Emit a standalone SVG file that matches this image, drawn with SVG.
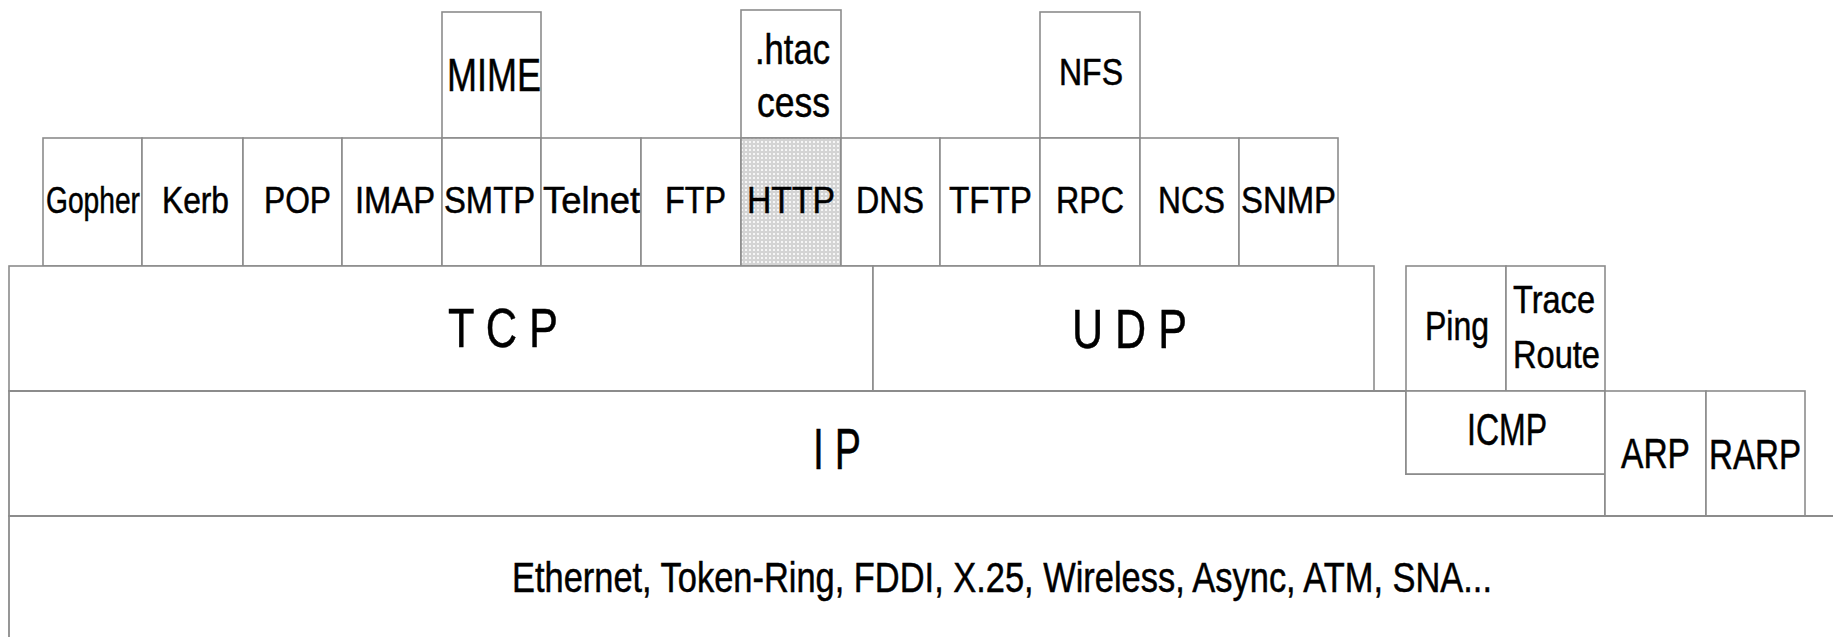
<svg xmlns="http://www.w3.org/2000/svg" width="1833" height="637" viewBox="0 0 1833 637">
<style>
.b{fill:#fff;stroke:#8c8c8c;stroke-width:1.6}
.l{fill:none;stroke:#8c8c8c;stroke-width:1.8}
text{font-family:"Liberation Sans",Arial,Helvetica,sans-serif;fill:#000;stroke:#000;stroke-width:0.5}
.a{font-size:37px}
</style>
<defs>
<pattern id="dots" width="4" height="4" patternUnits="userSpaceOnUse">
<rect width="4" height="4" fill="#d4d4d4"/>
<rect x="1" y="1" width="2" height="2" fill="#f6f6f6"/>
</pattern>
</defs>
<rect width="1833" height="637" fill="#fff"/>

<g id="mime"><rect class="b" x="442" y="12" width="99" height="126"/><text x="447" y="91" font-size="46" textLength="94" lengthAdjust="spacingAndGlyphs">MIME</text></g>
<g id="htaccess"><rect class="b" x="741" y="10" width="100" height="128"/><text x="755" y="64" font-size="42" textLength="75" lengthAdjust="spacingAndGlyphs">.htac</text><text x="757" y="117" font-size="42" textLength="73" lengthAdjust="spacingAndGlyphs">cess</text></g>
<g id="nfs"><rect class="b" x="1040" y="12" width="100" height="126"/><text x="1059" y="85" font-size="36" textLength="64" lengthAdjust="spacingAndGlyphs">NFS</text></g>

<g id="gopher"><rect class="b" x="43" y="138" width="99" height="128"/><text class="a" x="46" y="213" textLength="94" lengthAdjust="spacingAndGlyphs">Gopher</text></g>
<g id="kerb"><rect class="b" x="142" y="138" width="101" height="128"/><text class="a" x="162" y="213" textLength="67" lengthAdjust="spacingAndGlyphs">Kerb</text></g>
<g id="pop"><rect class="b" x="243" y="138" width="99" height="128"/><text class="a" x="264" y="213" textLength="67" lengthAdjust="spacingAndGlyphs">POP</text></g>
<g id="imap"><rect class="b" x="342" y="138" width="100" height="128"/><text class="a" x="355" y="213" textLength="80" lengthAdjust="spacingAndGlyphs">IMAP</text></g>
<g id="smtp"><rect class="b" x="442" y="138" width="99" height="128"/><text class="a" x="444" y="213" textLength="91" lengthAdjust="spacingAndGlyphs">SMTP</text></g>
<g id="telnet"><rect class="b" x="541" y="138" width="100" height="128"/><text class="a" x="543" y="213" textLength="97" lengthAdjust="spacingAndGlyphs">Telnet</text></g>
<g id="ftp"><rect class="b" x="641" y="138" width="100" height="128"/><text class="a" x="665" y="213" textLength="61" lengthAdjust="spacingAndGlyphs">FTP</text></g>
<g id="http"><rect class="b" x="741" y="138" width="100" height="128" style="fill:url(#dots)"/><text class="a" x="747" y="213" textLength="88" lengthAdjust="spacingAndGlyphs">HTTP</text></g>
<g id="dns"><rect class="b" x="841" y="138" width="99" height="128"/><text class="a" x="856" y="213" textLength="68" lengthAdjust="spacingAndGlyphs">DNS</text></g>
<g id="tftp"><rect class="b" x="940" y="138" width="100" height="128"/><text class="a" x="949" y="213" textLength="83" lengthAdjust="spacingAndGlyphs">TFTP</text></g>
<g id="rpc"><rect class="b" x="1040" y="138" width="100" height="128"/><text class="a" x="1056" y="213" textLength="68" lengthAdjust="spacingAndGlyphs">RPC</text></g>
<g id="ncs"><rect class="b" x="1140" y="138" width="99" height="128"/><text class="a" x="1158" y="213" textLength="67" lengthAdjust="spacingAndGlyphs">NCS</text></g>
<g id="snmp"><rect class="b" x="1239" y="138" width="99" height="128"/><text class="a" x="1241" y="213" textLength="95" lengthAdjust="spacingAndGlyphs">SNMP</text></g>

<g id="tcp"><rect class="b" x="9" y="266" width="864" height="125"/><text x="448" y="347" font-size="56" textLength="110" lengthAdjust="spacingAndGlyphs">T C P</text></g>
<g id="udp"><rect class="b" x="873" y="266" width="501" height="125"/><text x="1072" y="348" font-size="56" textLength="115" lengthAdjust="spacingAndGlyphs">U D P</text></g>
<g id="ping"><rect class="b" x="1406" y="266" width="100" height="125"/><text x="1425" y="340" font-size="40" textLength="64" lengthAdjust="spacingAndGlyphs">Ping</text></g>
<g id="traceroute"><rect class="b" x="1506" y="266" width="99" height="125"/><text x="1513" y="313" font-size="38" textLength="82" lengthAdjust="spacingAndGlyphs">Trace</text><text x="1513" y="368" font-size="38" textLength="87" lengthAdjust="spacingAndGlyphs">Route</text></g>

<g id="ip"><path class="l" d="M9,391 H1406 V474 H1605 V516 H9 Z"/><text x="813" y="469" font-size="58" textLength="48" lengthAdjust="spacingAndGlyphs">I P</text></g>
<g id="icmp"><rect class="b" x="1406" y="391" width="199" height="83"/><text x="1467" y="445" font-size="44" textLength="80" lengthAdjust="spacingAndGlyphs">ICMP</text></g>
<g id="arp"><rect class="b" x="1605" y="391" width="101" height="125"/><text x="1621" y="468" font-size="42" textLength="69" lengthAdjust="spacingAndGlyphs">ARP</text></g>
<g id="rarp"><rect class="b" x="1706" y="391" width="99" height="125"/><text x="1709" y="469" font-size="42" textLength="92" lengthAdjust="spacingAndGlyphs">RARP</text></g>

<g id="link"><path class="l" d="M1833,516 H9 V637"/><text x="512" y="592" font-size="42" textLength="980" lengthAdjust="spacingAndGlyphs">Ethernet, Token-Ring, FDDI, X.25, Wireless, Async, ATM, SNA...</text></g>
</svg>
